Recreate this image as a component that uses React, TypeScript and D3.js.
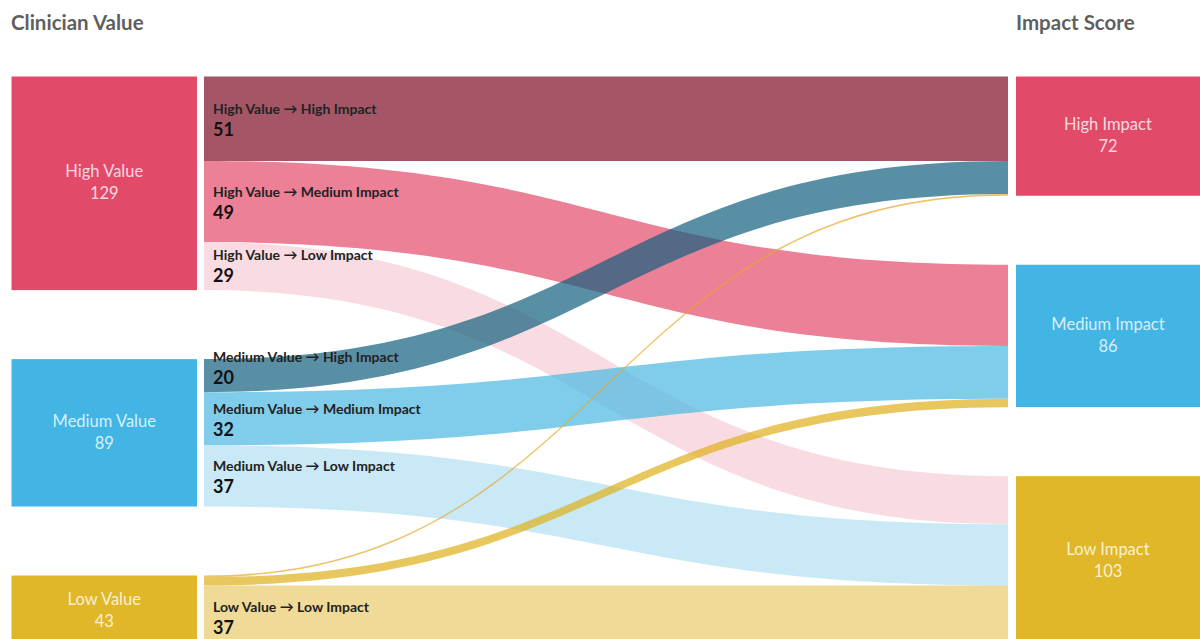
import React from "react";
import * as d3 from "d3";

const leftNodes = ["High Value", "Medium Value", "Low Value"];
const rightNodes = ["High Impact", "Medium Impact", "Low Impact"];
const shortNames = ["High", "Medium", "Low"];
// flowValues[source][target]
const flowValues = [
  [51, 49, 29],
  [20, 32, 37],
  [1, 5, 37],
];
const nodeColors = ["#e24a6a", "#42b5e5", "#e1b72a"];
const flowColors = [
  ["#7e0e27", "#e24a6a", "#f6cdd6"],
  ["#135f7e", "#48b8e2", "#b0e0f1"],
  ["#e8a82a", "#deb019", "#eaca6c"],
];
const titles = ["Clinician Value", "Impact Score"];

const W = 1200;
const H = 639;
const TOP = 76.5;
const GAP = 69;
const K = 1.656;
const LX0 = 11.5, LX1 = 197;
const FX0 = 204, FX1 = 1008;
const RX0 = 1016, RX1 = 1200;
const FONT = "Lato, 'Open Sans', sans-serif";

export default function App() {
  const leftTotals = flowValues.map((r) => d3.sum(r));
  const rightTotals = rightNodes.map((_, j) => d3.sum(flowValues, (r) => r[j]));
  const y = d3.scaleLinear().domain([0, 1]).range([0, K]);

  const layoutNodes = (totals: number[]) => {
    let cum = 0;
    return totals.map((t, i) => {
      const y0 = TOP + y(cum) + i * GAP;
      cum += t;
      return { y0, y1: y0 + y(t), value: t };
    });
  };
  const L = layoutNodes(leftTotals);
  const R = layoutNodes(rightTotals);

  const srcOff = L.map((n) => n.y0);
  const tgtOff = R.map((n) => n.y0);
  const flows: any[] = [];
  flowValues.forEach((row, i) =>
    row.forEach((v, j) => {
      const h = y(v);
      const s0 = srcOff[i];
      srcOff[i] += h;
      flows.push({ i, j, v, s0, s1: s0 + h, t0: 0, t1: 0 });
    })
  );
  rightNodes.forEach((_, j) => {
    flows
      .filter((f) => f.j === j)
      .sort((a, b) => a.i - b.i)
      .forEach((f) => {
        f.t0 = tgtOff[j];
        tgtOff[j] += f.s1 - f.s0;
        f.t1 = tgtOff[j];
      });
  });

  const xm = (FX0 + FX1) / 2;
  const bandPath = (f: any) => {
    const p = d3.path();
    p.moveTo(FX0, f.s0);
    p.bezierCurveTo(xm, f.s0, xm, f.t0, FX1, f.t0);
    p.lineTo(FX1, f.t1);
    p.bezierCurveTo(xm, f.t1, xm, f.s1, FX0, f.s1);
    p.closePath();
    return p.toString();
  };

  return (
    <div style={{ position: "absolute", left: 0, top: 0 }}>
      <svg width={W} height={H} style={{ display: "block", fontFamily: FONT }}>
        <text x={11} y={30} fontSize={20.5} fontWeight={700} fill="#5f5f5f">
          {titles[0]}
        </text>
        <text x={1016} y={30} fontSize={20.5} fontWeight={700} fill="#5f5f5f">
          {titles[1]}
        </text>
        {flows.map((f, k) => (
          <path key={k} d={bandPath(f)} fill={flowColors[f.i][f.j]} fillOpacity={0.7} />
        ))}
        {L.map((n, i) => (
          <g key={"l" + i}>
            <rect x={LX0} y={n.y0} width={LX1 - LX0} height={n.y1 - n.y0} fill={nodeColors[i]} />
            <text x={(LX0 + LX1) / 2} y={(n.y0 + n.y1) / 2 - 6} textAnchor="middle" fontSize={16.5} fill="#fff" fillOpacity={0.8}>
              {leftNodes[i]}
            </text>
            <text x={(LX0 + LX1) / 2} y={(n.y0 + n.y1) / 2 + 16} textAnchor="middle" fontSize={16.5} fill="#fff" fillOpacity={0.8}>
              {n.value}
            </text>
          </g>
        ))}
        {R.map((n, i) => (
          <g key={"r" + i}>
            <rect x={RX0} y={n.y0} width={RX1 - RX0} height={n.y1 - n.y0} fill={nodeColors[i]} />
            <text x={(RX0 + RX1) / 2} y={(n.y0 + n.y1) / 2 - 6} textAnchor="middle" fontSize={16.5} fill="#fff" fillOpacity={0.8}>
              {rightNodes[i]}
            </text>
            <text x={(RX0 + RX1) / 2} y={(n.y0 + n.y1) / 2 + 16} textAnchor="middle" fontSize={16.5} fill="#fff" fillOpacity={0.8}>
              {n.value}
            </text>
          </g>
        ))}
        {flows
          .filter((f) => f.v >= 10)
          .map((f, k) => {
            const c = (f.s0 + f.s1) / 2;
            const vb = Math.min(c + 17.5, f.s1 - 8);
            return (
              <g key={"fl" + k}>
                <text x={213} y={vb - 22} fontSize={14} fontWeight={700} fill="#222">
                  {`${shortNames[f.i]} Value \u2192 ${shortNames[f.j]} Impact`}
                </text>
                <text x={213} y={vb} fontSize={18} fontWeight={700} fill="#111">
                  {f.v}
                </text>
              </g>
            );
          })}
      </svg>
    </div>
  );
}
